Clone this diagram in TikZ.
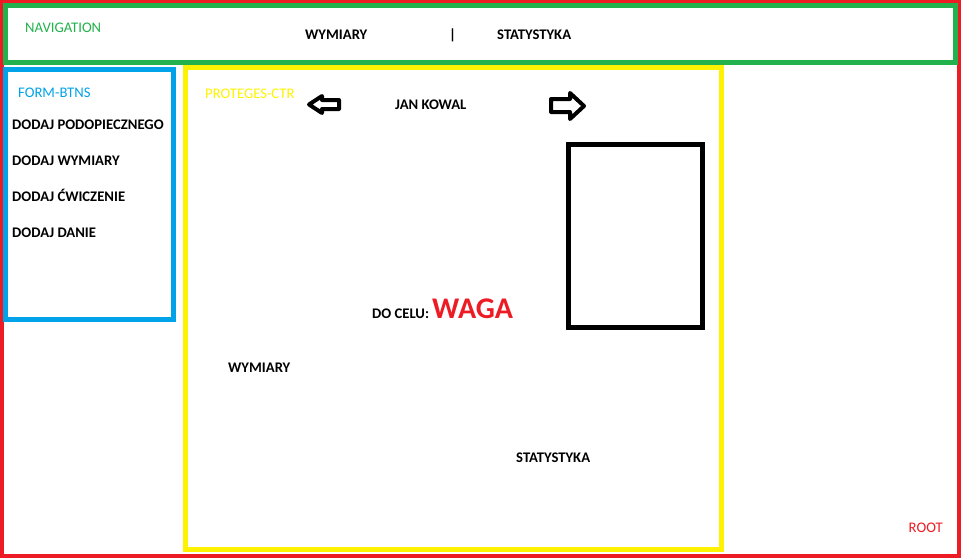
\documentclass[tikz,border=0pt]{standalone}
\usepackage{fontspec}
\setmainfont{Carlito}
\definecolor{paintred}{RGB}{237,28,36}
\definecolor{paintgreen}{RGB}{34,177,76}
\definecolor{paintblue}{RGB}{0,162,232}
\definecolor{paintyellow}{RGB}{255,242,0}
\tikzset{
	tag/.style={inner sep=0pt, anchor=base west, font=\fontsize{14.67}{17}\selectfont},
	item/.style={inner sep=0pt, anchor=base west, font=\bfseries\fontsize{14.67}{17}\selectfont},
	frame/.style={line width=5}
}

\begin{document}
\begin{tikzpicture}[x=1pt, y=-1pt]
			%%%%% START %%%%%
			\useasboundingbox (0, 0) rectangle (961, 558);
			
			% root
			\draw[line width=4, color=paintred] (2, 2) rectangle (959, 556);
			\node[tag, color=paintred] (root) at (908.5, 532) {ROOT};
			
			% navigation
			\draw[frame, color=paintgreen] (5.5, 5.5) rectangle (955.5, 62.5);
			\node[tag, color=paintgreen] (nav) at (25, 32) {NAVIGATION};
			\node[item] (navwym) at (305, 39) {WYMIARY};
			\node[item, anchor=base] (navsep) at (452.5, 39) {|};
			\node[item] (navstat) at (497, 39) {STATYSTYKA};
			
			% form-btns
			\draw[frame, color=paintblue] (5.5, 69) rectangle (173.5, 319.5);
			\node[tag, color=paintblue] (form) at (18, 97) {FORM-BTNS};
			\node[item] (addpod) at (12, 129) {DODAJ PODOPIECZNEGO};
			\node[item] (addwym) at (12, 165) {DODAJ WYMIARY};
			\node[item] (addcw) at (12, 201) {DODAJ ĆWICZENIE};
			\node[item] (adddan) at (12, 237) {DODAJ DANIE};
			
			% proteges-ctr
			\draw[frame, color=paintyellow] (185.5, 67.5) rectangle (721.5, 549.5);
			\node[tag, color=paintyellow] (ctr) at (205, 98) {PROTEGES-CTR};
			\node[item] (name) at (395, 109) {JAN KOWAL};
			\draw[line width=4, line join=round, fill=white] (309, 104.5) -- (322, 96) -- (322, 100) -- (339, 100) -- (339, 109) -- (322, 109) -- (322, 113) -- cycle;
			\draw[line width=4, line join=round, fill=white] (584, 106) -- (570, 93) -- (570, 99) -- (551, 99) -- (551, 112) -- (570, 112) -- (570, 119) -- cycle;
			\draw[frame, color=black] (568.5, 144.5) rectangle (702.5, 327.5);
			\node[item] (goal) at (372, 318) {DO CELU:};
			\node[item, color=paintred, font=\bfseries\fontsize{30}{34}\selectfont] (waga) at (432, 318.5) {WAGA};
			\node[item] (ctrwym) at (228, 372) {WYMIARY};
			\node[item] (ctrstat) at (516, 462) {STATYSTYKA};
			
			%%%%% END %%%%%
\end{tikzpicture}
\end{document}
